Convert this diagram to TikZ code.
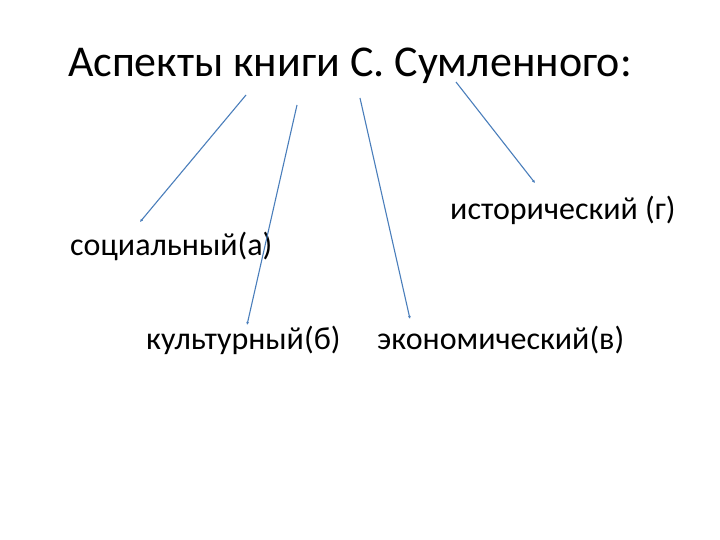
\documentclass[tikz,border=0pt]{standalone}
\usepackage{fontspec}
\setmainfont{Carlito}
\usetikzlibrary{arrows.meta}
\definecolor{linkblue}{RGB}{74,126,187}
\tikzset{
  aspect/.style={anchor=west,inner sep=0pt,font=\fontsize{32}{38}\selectfont},
  link/.style={draw=linkblue,line width=1.1pt,-{Latex[length=3pt,width=3pt]}}
}
\begin{document}
\begin{tikzpicture}[x=1pt,y=-1pt]
  \useasboundingbox (0,0) rectangle (720,540);
  \node at(68, 66) [anchor=west,inner sep=0pt,font=\fontsize{44}{52}\selectfont](title){Аспекты книги С. Сумленного:};

  \node at(450, 210) [aspect](hist){исторический (г)};
  \node at(70, 246) [aspect](soc){социальный(а)};
  \node at(146, 340) [aspect](cult){культурный(б)};
  \node at(377, 340) [aspect](econ){экономический(в)};

  \coordinate (s1) at(246, 95);  \coordinate (e1) at(140, 222);
  \coordinate (s2) at(297, 105); \coordinate (e2) at(247, 325);
  \coordinate (s3) at(360, 98);  \coordinate (e3) at(410, 319);
  \coordinate (s4) at(456, 82);  \coordinate (e4) at(535, 183);

  \draw[link] (s1) -- (e1);
  \draw[link] (s2) -- (e2);
  \draw[link] (s3) -- (e3);
  \draw[link] (s4) -- (e4);
\end{tikzpicture}
\end{document}
